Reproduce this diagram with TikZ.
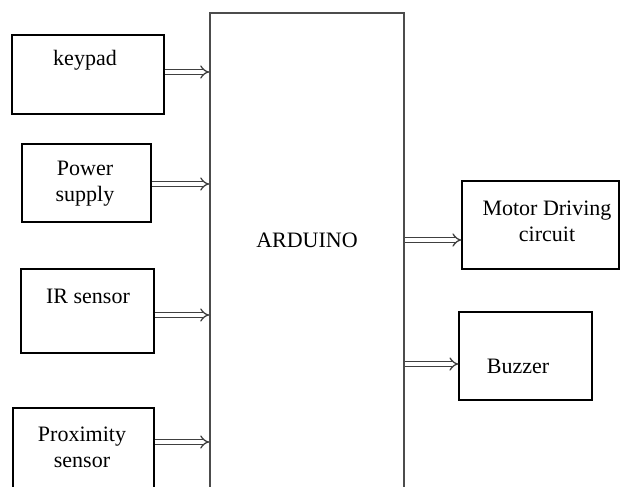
\documentclass[tikz,border=0pt]{standalone}
\usepackage{fontspec}
\setmainfont{Liberation Serif}
\usepackage{tikz}
\usetikzlibrary{arrows.meta, positioning}

\tikzset{
  blk/.style={draw, line width=1.2pt, inner sep=0pt},
  lbl/.style={align=center, font=\fontsize{22}{26}\selectfont, inner sep=0pt},
  bus/.style={draw=black!75, line width=1.3pt, double=white, double distance=3.2pt, -{Implies}},
}

\begin{document}
\begin{tikzpicture}[x=1pt, y=-1pt]
\useasboundingbox (0,0) rectangle (621,487);
\clip (0,0) rectangle (621,487);
% main controller
\node[blk, draw=black!70, line width=1.6pt, minimum width=194pt, minimum height=490pt] (ard) at (307,258) {};
\node[lbl] (ardtxt) at (307,240) {ARDUINO};
% inputs
\node[blk, minimum width=152pt, minimum height=79pt] (kp) at (88,74.5) {};
\node[lbl] (kptxt) at (85,60) {keypad};
\node[blk, minimum width=129pt, minimum height=78pt] (ps) at (86.5,183) {};
\node[lbl] (pstxt) at (85,184) {Power\\supply};
\node[blk, minimum width=133pt, minimum height=84pt] (ir) at (87.5,311) {};
\node[lbl] (irtxt) at (88,296) {IR sensor};
\node[blk, minimum width=141pt, minimum height=110pt] (px) at (83.5,463) {};
\node[lbl] (pxtxt) at (82,447) {Proximity\\sensor};
% outputs
\node[blk, minimum width=157pt, minimum height=88pt] (mot) at (540.5,225) {};
\node[lbl] (mottxt) at (547,221) {Motor Driving\\circuit};
\node[blk, minimum width=133pt, minimum height=88pt] (buz) at (525.5,356) {};
\node[lbl] (buztxt) at (518,366) {Buzzer};
% buses
\draw[bus] (kp.east |- 0,72) -- (ard.west |- 0,72);
\draw[bus] (ps.east |- 0,184) -- (ard.west |- 0,184);
\draw[bus] (ir.east |- 0,315) -- (ard.west |- 0,315);
\draw[bus] (px.east |- 0,442) -- (ard.west |- 0,442);
\draw[bus] (ard.east |- 0,240) -- (mot.west |- 0,240);
\draw[bus] (ard.east |- 0,364) -- (buz.west |- 0,364);
\end{tikzpicture}
\end{document}
